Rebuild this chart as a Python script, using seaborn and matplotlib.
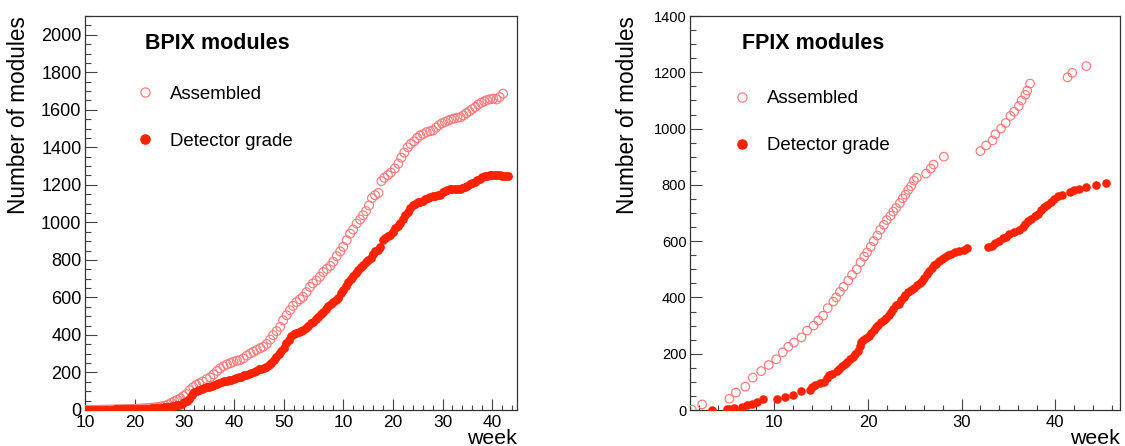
import numpy as np
import pandas as pd
import matplotlib
matplotlib.use("Agg")
import matplotlib.pyplot as plt
from matplotlib.lines import Line2D
import seaborn as sns

# ---------------- data (weeks counted continuously; 2nd year week w -> 52 + w) -------------
bpix_asm_week = [10.0, 10.7, 11.4, 12.1, 12.8, 13.5, 14.2, 14.9, 15.6, 16.3, 17.0, 17.7, 18.4, 19.1,
                 19.8, 20.5, 21.2, 21.9, 22.6, 23.3, 24.0, 24.7, 25.4, 26.1, 26.8, 27.4, 28.0, 28.6,
                 29.2, 29.8, 30.4, 31.1, 31.8, 32.4, 33.0, 33.7, 34.5, 35.2, 35.9, 36.6, 37.2, 37.9,
                 38.6, 39.3, 39.9, 40.6, 41.2, 41.9, 42.6, 43.3, 43.9, 44.6, 45.3, 45.9, 46.6, 47.3,
                 47.9, 48.6, 49.3, 49.9, 50.6, 51.3, 51.9, 52.6, 53.3, 53.9, 54.6, 55.3, 55.9, 56.6,
                 57.3, 58.0, 58.7, 59.4, 60.0, 60.7, 61.4, 62.0, 62.7, 63.4, 64.0, 64.7, 65.4, 66.0,
                 66.6, 67.2, 67.8, 68.4, 69.1, 69.7, 70.3, 71.0, 71.6, 72.4, 73.1, 73.7, 74.3, 75.0,
                 75.6, 76.3, 76.9, 77.5, 78.1, 78.8, 79.5, 80.1, 80.7, 81.3, 81.9, 82.5, 83.1, 83.7,
                 84.3, 85.0, 85.6, 86.2, 86.8, 87.4, 88.0, 88.6, 89.2, 89.8, 90.4, 91.0, 91.6, 92.2,
                 92.9, 93.5, 94.2]
bpix_asm_val = [0, 0, 0, 1, 1, 2, 2, 3, 3, 4, 4, 5, 5, 6,
                6, 7, 8, 9, 10, 12, 14, 16, 19, 23, 30, 38, 46, 54,
                62, 74, 85, 106, 122, 134, 142, 152, 165, 174, 190, 208, 222, 233,
                243, 250, 257, 262, 266, 275, 290, 302, 310, 320, 330, 337, 352, 375,
                399, 420, 443, 478, 505, 532, 555, 575, 590, 603, 628, 656, 675, 690,
                710, 735, 752, 768, 790, 820, 845, 870, 905, 940, 962, 994, 1015, 1038,
                1060, 1090, 1130, 1145, 1157, 1220, 1238, 1252, 1265, 1287, 1313, 1345, 1372, 1400,
                1418, 1432, 1450, 1464, 1470, 1481, 1486, 1490, 1505, 1518, 1528, 1535, 1542, 1549,
                1553, 1558, 1560, 1570, 1582, 1592, 1604, 1615, 1628, 1638, 1645, 1652, 1656, 1659,
                1655, 1668, 1686]

bpix_det_week = [10.0, 10.5, 11.0, 11.5, 12.0, 12.5, 13.0, 13.5, 14.0, 14.5, 15.0, 15.5, 16.0, 16.5,
                 17.0, 17.5, 18.0, 18.5, 19.0, 19.5, 20.0, 20.5, 21.0, 21.5, 22.0, 22.5, 23.0, 23.5,
                 24.0, 24.5, 25.0, 25.5, 26.0, 26.5, 27.0, 27.5, 28.0, 28.5, 29.0, 29.5, 30.0, 30.5,
                 31.0, 31.5, 32.0, 32.5, 33.0, 33.5, 34.0, 34.5, 35.0, 35.5, 36.0, 36.5, 37.0, 37.5,
                 38.0, 38.5, 39.0, 39.5, 40.0, 40.5, 41.0, 41.5, 42.0, 42.5, 43.0, 43.5, 44.0, 44.5,
                 45.0, 45.5, 46.0, 46.5, 47.0, 47.5, 48.0, 48.5, 49.0, 49.5, 50.0, 50.5, 51.0, 51.5,
                 52.0, 52.5, 53.0, 53.5, 54.0, 54.5, 55.0, 55.5, 56.0, 56.5, 57.0, 57.5, 58.0, 58.5,
                 59.0, 59.5, 60.0, 60.5, 61.0, 61.5, 62.0, 62.5, 63.0, 63.5, 64.0, 64.5, 65.0, 65.5,
                 66.0, 66.5, 67.0, 67.5, 68.0, 68.5, 69.0, 69.5, 70.0, 70.5, 71.0, 71.5, 72.0, 72.5,
                 73.0, 73.5, 74.0, 74.5, 75.0, 75.5, 76.0, 76.5, 77.0, 77.5, 78.0, 78.5, 79.0, 79.5,
                 80.0, 80.5, 81.0, 81.5, 82.0, 82.5, 83.0, 83.5, 84.0, 84.5, 85.0, 85.5, 86.0, 86.5,
                 87.0, 87.5, 88.0, 88.5, 89.0, 89.5, 90.0, 90.5, 91.0, 91.5, 92.0, 92.5, 93.0, 93.5,
                 94.0, 94.5, 95.2]
bpix_det_val = [0, 0, 0, 0, 0, 0, 1, 1, 1, 1, 2, 2, 3, 3,
                3, 4, 4, 4, 5, 5, 5, 5, 6, 6, 6, 7, 7, 8,
                8, 9, 10, 12, 14, 15, 17, 19, 22, 25, 28, 34, 42, 50,
                58, 80, 95, 100, 106, 112, 117, 121, 125, 128, 133, 138, 142, 147,
                152, 156, 159, 162, 166, 170, 174, 178, 184, 188, 193, 199, 204, 210,
                216, 221, 226, 230, 240, 252, 266, 285, 300, 315, 330, 358, 375, 395,
                405, 412, 416, 420, 426, 438, 450, 462, 470, 484, 497, 510, 522, 538,
                552, 565, 575, 588, 595, 625, 640, 660, 680, 698, 712, 728, 745, 760,
                772, 790, 800, 812, 832, 850, 852, 870, 905, 915, 925, 935, 950, 968,
                980, 995, 1018, 1040, 1055, 1075, 1090, 1100, 1106, 1110, 1116, 1122, 1128, 1133,
                1138, 1142, 1145, 1148, 1160, 1168, 1172, 1176, 1179, 1180, 1180, 1180, 1185, 1190,
                1196, 1203, 1210, 1216, 1226, 1233, 1240, 1245, 1248, 1251, 1251, 1250, 1250, 1251,
                1249, 1248, 1248]

fpix_asm_week = [1.2, 2.3, 5.2, 5.9, 6.9, 7.7, 8.6, 9.4, 10.2, 10.9, 11.5, 12.1, 12.9, 13.5,
                 14.2, 14.7, 15.2, 15.7, 16.3, 16.6, 17.0, 17.4, 17.9, 18.3, 18.8, 19.2, 19.6, 19.9,
                 20.3, 20.6, 21.0, 21.3, 21.7, 22.0, 22.4, 22.7, 23.0, 23.4, 23.7, 24.0, 24.3, 24.6,
                 24.9, 25.2, 26.2, 26.7, 27.0, 28.1, 32.0, 32.6, 33.3, 33.6, 34.2, 34.7, 35.2, 35.6,
                 36.1, 36.4, 36.8, 37.0, 37.3, 41.3, 41.8, 43.3]
fpix_asm_val = [1, 20, 40, 62, 83, 115, 138, 160, 180, 205, 225, 240, 258, 282,
                300, 318, 335, 362, 385, 400, 420, 438, 460, 480, 500, 525, 545, 560,
                580, 600, 620, 640, 658, 675, 690, 705, 718, 735, 752, 765, 782, 795,
                815, 825, 840, 858, 872, 900, 920, 940, 958, 980, 1000, 1020, 1045, 1060,
                1080, 1100, 1120, 1135, 1160, 1182, 1198, 1222]

fpix_det_week = [3.3, 4.9, 5.2, 5.7, 6.6, 7.1, 7.6, 8.1, 8.8, 10.3, 11.1, 12.0, 12.9, 13.8,
                 14.0, 14.3, 14.9, 15.3, 15.6, 15.8, 16.2, 16.7, 16.9, 17.2, 17.5, 17.8, 18.1, 18.4,
                 18.6, 18.9, 19.1, 19.3, 19.5, 19.8, 20.1, 20.3, 20.6, 20.9, 21.1, 21.4, 21.7, 21.9,
                 22.2, 22.5, 22.7, 23.0, 23.3, 23.5, 23.8, 24.0, 24.3, 24.6, 24.9, 25.2, 25.5, 25.8,
                 26.0, 26.3, 26.5, 26.8, 27.0, 27.3, 27.6, 27.9, 28.2, 28.5, 28.9, 29.3, 29.7, 30.2,
                 30.6, 32.8, 33.2, 33.6, 34.0, 34.4, 34.7, 35.1, 35.6, 36.1, 36.5, 36.8, 37.1, 37.4,
                 37.8, 38.1, 38.5, 38.8, 39.1, 39.5, 39.9, 40.3, 40.7, 41.6, 42.0, 42.5, 43.3, 44.3,
                 45.4]
fpix_det_val = [0, 3, 5, 8, 12, 18, 22, 30, 38, 40, 45, 52, 67, 72,
                80, 88, 95, 100, 115, 125, 128, 140, 145, 158, 165, 172, 180, 190,
                198, 210, 228, 240, 248, 255, 262, 272, 285, 295, 302, 312, 320, 328,
                338, 348, 360, 372, 378, 392, 400, 408, 418, 428, 435, 445, 452, 460,
                470, 485, 495, 505, 515, 520, 530, 538, 545, 550, 555, 560, 565, 570,
                575, 578, 582, 592, 600, 610, 615, 625, 633, 640, 650, 660, 670, 680,
                690, 698, 712, 722, 730, 740, 750, 760, 765, 775, 780, 787, 792, 799,
                805]

bpix_xtick_pos = [10, 20, 30, 40, 50, 62, 72, 82, 92]
bpix_xtick_lab = ["10", "20", "30", "40", "50", "10", "20", "30", "40"]

# ---------------- style ----------------
sns.set_style("white")
plt.rcParams["font.family"] = ["Liberation Sans", "DejaVu Sans"]
plt.rcParams["text.color"] = "black"
plt.rcParams["axes.labelcolor"] = "black"
plt.rcParams["xtick.color"] = "black"
plt.rcParams["ytick.color"] = "black"

RED = "#ff2200"
PINK = "#ff7a7a"

fig = plt.figure(figsize=(11.25, 4.46), dpi=100)
axL = fig.add_axes([85 / 1125, 36 / 446, 432 / 1125, 394 / 446])
axR = fig.add_axes([690 / 1125, 36 / 446, 430 / 1125, 394 / 446])


def draw(ax, aw, av, dw, dv, s):
    asm = pd.DataFrame({"week": aw, "n": av})
    det = pd.DataFrame({"week": dw, "n": dv})
    sns.scatterplot(data=asm, x="week", y="n", ax=ax, marker="o", s=s,
                    color=PINK, linewidth=0.8, legend=False, zorder=3)
    coll = ax.collections[-1]
    coll.set_facecolor("none")
    coll.set_edgecolor(PINK)
    coll.set_linewidth(0.85)
    sns.scatterplot(data=det, x="week", y="n", ax=ax, marker="o", s=s,
                    color=RED, edgecolor=RED, linewidth=0, legend=False, zorder=4)


draw(axL, bpix_asm_week, bpix_asm_val, bpix_det_week, bpix_det_val, 40)
draw(axR, fpix_asm_week, fpix_asm_val, fpix_det_week, fpix_det_val, 38)

# axes limits and ticks
axL.set_xlim(10, 97)
axL.set_ylim(0, 2100)
axL.set_xticks(bpix_xtick_pos)
axL.set_xticklabels(bpix_xtick_lab)
axL.set_xticks(np.arange(10, 97, 2), minor=True)
axL.set_yticks(np.arange(0, 2001, 200))
axL.set_yticks(np.arange(0, 2101, 50), minor=True)

axR.set_xlim(1, 46.9)
axR.set_ylim(0, 1400)
axR.set_xticks([10, 20, 30, 40])
axR.set_xticks(np.arange(2, 47, 2), minor=True)
axR.set_yticks(np.arange(0, 1401, 200))
axR.set_yticks(np.arange(0, 1401, 50), minor=True)

for ax, ylab_x, yfs, xfs, title, tx, ty, leg_y in [
        (axL, -0.128, 13, 12.5, "BPIX modules", 0.139, 0.929, 0.823),
        (axR, -0.118, 10.5, 12, "FPIX modules", 0.121, 0.929, 0.812)]:
    for sp in ax.spines.values():
        sp.set_color("#333333")
        sp.set_linewidth(0.9)
        sp.set_visible(True)
    ax.tick_params(axis="y", which="major", direction="in", length=8.6, width=0.8,
                   color="#444444", labelsize=yfs, pad=2.6, left=True, right=False)
    ax.tick_params(axis="y", which="minor", direction="in", length=4.3, width=0.8,
                   color="#444444", left=True, right=False)
    ax.tick_params(axis="x", which="major", direction="in", length=7.9, width=0.8,
                   color="#444444", labelsize=xfs, pad=3.6, bottom=True, top=False)
    ax.tick_params(axis="x", which="minor", direction="in", length=3.6, width=0.8,
                   color="#444444", bottom=True, top=False)
    ax.set_ylabel("Number of modules", fontsize=16.3, loc="top", color="black")
    ax.yaxis.set_label_coords(ylab_x, 1.0)
    ax.set_xlabel("week", fontsize=15.4, loc="right", color="black")
    ax.xaxis.set_label_coords(1.0, -0.048)
    ax.text(tx, ty, title, transform=ax.transAxes, fontsize=15.5, color="black",
            fontweight="bold", va="center", ha="left")
    handles = [Line2D([], [], marker="o", linestyle="none", markersize=6.6,
                      markerfacecolor="none", markeredgecolor=PINK, markeredgewidth=0.85),
               Line2D([], [], marker="o", linestyle="none", markersize=6.6,
                      markerfacecolor=RED, markeredgecolor=RED)]
    leg = ax.legend(handles, ["Assembled", "Detector grade"], loc="upper left",
                    bbox_to_anchor=(tx - 0.022, leg_y), frameon=False, fontsize=13.4,
                    handlelength=1.0, handletextpad=0.85, labelspacing=1.62,
                    borderaxespad=0.0, borderpad=0.0)
    for t in leg.get_texts():
        t.set_color("black")

fig.savefig("out.png", dpi=100)
